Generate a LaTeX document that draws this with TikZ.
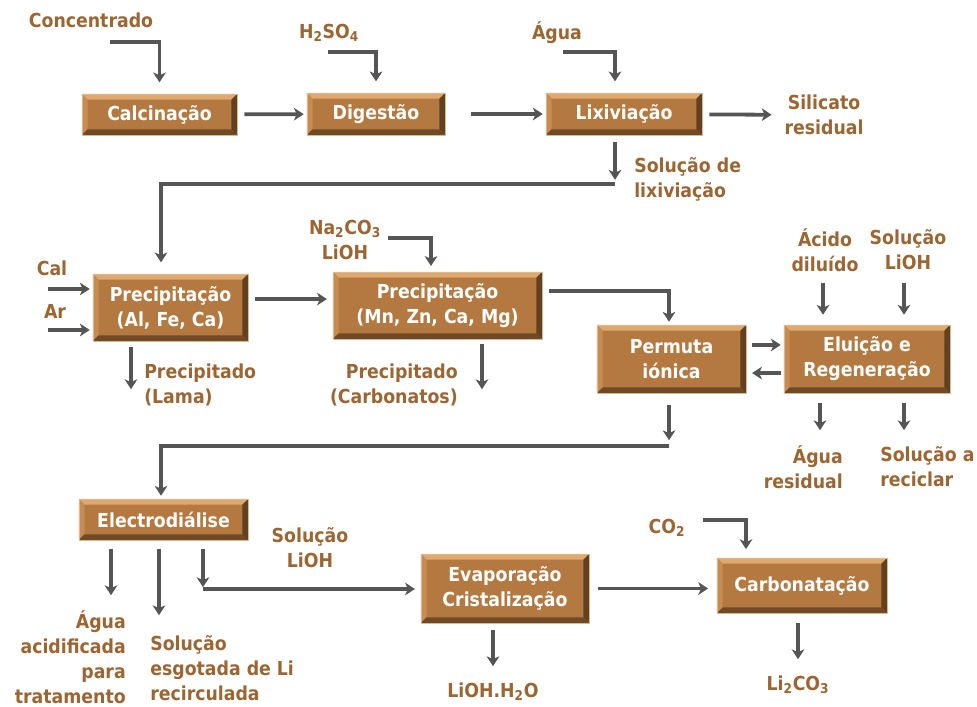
\documentclass[tikz,border=0pt]{standalone}
\usepackage{fontspec}
\setmainfont{DejaVu Sans Condensed}
\usepackage{xcolor}
\usepackage{tikz}
\usetikzlibrary{arrows.meta, positioning}

\definecolor{boxmid}{RGB}{180,121,64}
\definecolor{boxtop}{RGB}{224,168,108}
\definecolor{boxleft}{RGB}{198,140,82}
\definecolor{boxbot}{RGB}{112,74,38}
\definecolor{boxright}{RGB}{98,64,32}
\definecolor{boxedge}{RGB}{214,186,150}
\definecolor{txtbrown}{RGB}{156,101,50}
\definecolor{arrowgray}{RGB}{85,85,85}

\newcommand{\diagfont}{\fontsize{13.7pt}{17.8pt}\selectfont\bfseries}
\newcommand{\bevelw}{4pt}

\begin{document}
\begin{tikzpicture}[x=0.025cm, y=-0.025cm,
			proc/.style={rectangle, draw=boxedge, line width=0.6pt, fill=boxmid,
					text=white, font=\diagfont, align=center, inner sep=0pt,
					path picture={
						\path (path picture bounding box.south west) coordinate (sw)
						(path picture bounding box.north east) coordinate (ne);
						\fill[boxtop] (sw |- ne) -- (ne) -- ([shift={(-\bevelw,-\bevelw)}]ne)
						-- ([shift={(\bevelw,-\bevelw)}]sw |- ne) -- cycle;
						\fill[boxleft] (sw) -- (sw |- ne) -- ([shift={(\bevelw,-\bevelw)}]sw |- ne)
						-- ([shift={(\bevelw,\bevelw)}]sw) -- cycle;
						\fill[boxbot] (sw) -- (ne |- sw) -- ([shift={(-\bevelw,\bevelw)}]ne |- sw)
						-- ([shift={(\bevelw,\bevelw)}]sw) -- cycle;
						\fill[boxright] (ne |- sw) -- (ne) -- ([shift={(-\bevelw,-\bevelw)}]ne)
						-- ([shift={(-\bevelw,\bevelw)}]ne |- sw) -- cycle;
					}},
			lbl/.style={text=txtbrown, font=\diagfont, inner sep=0pt},
			line/.style={draw=arrowgray, line width=2.7pt,
					-{Stealth[length=7pt, width=9pt, inset=2pt]}, shorten >=2pt, shorten <=5pt}]

		\useasboundingbox (0,0) rectangle (977,707);

		% Process boxes
		\node[proc, minimum width=3.875cm, minimum height=1.025cm] (calc) at (159.5,114.5) {Calcinação};
		\node[proc, minimum width=3.45cm, minimum height=1.05cm] (digest) at (376,114) {Digestão};
		\node[proc, minimum width=3.9cm, minimum height=1.05cm] (lixiv) at (624,114) {Lixiviação};
		\node[proc, minimum width=3.875cm, minimum height=1.675cm] (precipA) at (170.5,307.5) {Precipitação\\(Al, Fe, Ca)};
		\node[proc, minimum width=5.225cm, minimum height=1.675cm] (precipB) at (437.5,305.5) {Precipitação\\(Mn, Zn, Ca, Mg)};
		\node[proc, minimum width=3.725cm, minimum height=1.7cm] (permuta) at (671.5,359) {Permuta\\iónica};
		\node[proc, minimum width=4.15cm, minimum height=1.7cm] (eluicao) at (867,359) {Eluição e\\Regeneração};
		\node[proc, minimum width=4.225cm, minimum height=1.025cm] (electro) at (163.5,519.5) {Electrodiálise};
		\node[proc, minimum width=4.2cm, minimum height=1.725cm] (evap) at (505,588.5) {Evaporação\\Cristalização};
		\node[proc, minimum width=4.25cm, minimum height=1.375cm] (carbon) at (802,585.5) {Carbonatação};

		% Stream labels
		\node[lbl] (concentrado) at (91,20) {Concentrado};
		\node[lbl] (hso) at (329,33) {H\textsubscript{2}SO\textsubscript{4}};
		\node[lbl] (agua) at (557,33) {Água};
		\node[lbl, align=center] (silicato) at (824,115) {Silicato\\residual};
		\node[lbl, align=left, anchor=west] (solLix) at (634,179) {Solução de\\lixiviação};
		\node[lbl] (cal) at (52,268) {Cal};
		\node[lbl] (ar) at (55,311) {Ar};
		\node[lbl, align=center] (nacarb) at (345,240) {Na\textsubscript{2}CO\textsubscript{3}\\LiOH};
		\node[lbl, align=left, anchor=west] (lama) at (144,385) {Precipitado\\(Lama)};
		\node[lbl, align=right, anchor=east] (carbonatos) at (458,385) {Precipitado\\(Carbonatos)};
		\node[lbl, align=center] (acido) at (825,250) {Ácido\\diluído};
		\node[lbl, align=center] (solLiOHa) at (908,250) {Solução\\LiOH};
		\node[lbl, align=right, anchor=east] (aguaRes) at (843,467) {Água\\residual};
		\node[lbl, align=left, anchor=west] (solRec) at (880,467) {Solução a\\reciclar};
		\node[lbl, align=right, anchor=east] (aguaAcid) at (126,657) {Água\\acidificada\\para\\tratamento};
		\node[lbl, align=left, anchor=west] (esgotada) at (150,668) {Solução\\esgotada de Li\\recirculada};
		\node[lbl, align=center] (solLiOHb) at (310,548) {Solução\\LiOH};
		\node[lbl] (co2) at (667,528) {CO\textsubscript{2}};
		\node[lbl] (liohh) at (493,692) {LiOH.H\textsubscript{2}O};
		\node[lbl] (licarb) at (798,685) {Li\textsubscript{2}CO\textsubscript{3}};

		% Free ends and bends of the streams
		\coordinate (concIn) at (110,42);
		\coordinate (hsoIn) at (328,52);
		\coordinate (aguaIn) at (563,52);
		\coordinate (aguaDn) at (615,52);
		\coordinate (lixOut) at (615,184);
		\coordinate (colA) at (161,0);
		\coordinate (calIn) at (48,289);
		\coordinate (arIn) at (48,330);
		\coordinate (naIn) at (388,238);
		\coordinate (naDn) at (431,238);
		\coordinate (lamaOut) at (131,392);
		\coordinate (carbOut) at (482,392);
		\coordinate (pbTurn) at (669,291);
		\coordinate (acidoIn) at (823,283);
		\coordinate (liohIn) at (904,283);
		\coordinate (resOut) at (820,433);
		\coordinate (recOut) at (904,433);
		\coordinate (permOut) at (669,443);
		\coordinate (permTurn) at (669,446);
		\coordinate (acidOut) at (111,598);
		\coordinate (esgOut) at (159,618);
		\coordinate (liohOut) at (203,590);
		\coordinate (liohTurn) at (203,589);
		\coordinate (evapOut) at (493,669);
		\coordinate (coIn) at (703,520);
		\coordinate (coDn) at (746,520);
		\coordinate (carbOut2) at (798,662);

		% Main line
		\draw[line, shorten <=0pt, shorten >=8pt] (concIn) -| (calc);
		\draw[line] (calc) -- (digest);
		\draw[line, shorten <=0pt, shorten >=8pt] (hsoIn) -| (digest);
		\draw[line, shorten <=18pt, shorten >=2pt] (digest) -- (lixiv);
		\draw[line, shorten <=0pt, shorten >=8pt] (aguaIn) -- (aguaDn) -- (aguaDn |- lixiv.north);
		\draw[line, shorten >=9pt] (lixiv) -- (silicato);
		\draw[line, shorten >=3pt] (lixiv.south -| lixOut) -- (lixOut);
		\draw[line, shorten <=0pt, shorten >=8pt] (lixOut) -| (precipA.north -| colA);

		% Purification
		\draw[line, shorten <=0pt] (calIn) -- (calIn -| precipA.west);
		\draw[line, shorten <=0pt] (arIn) -- (arIn -| precipA.west);
		\draw[line, shorten >=4pt] ([yshift=6pt]precipA.east) -- ([yshift=6pt]precipA.east -| precipB.west);
		\draw[line, shorten <=0pt, shorten >=4pt] (naIn) -- (naDn) -- (naDn |- precipB.north);
		\draw[line, shorten <=4pt] (precipA.south -| lamaOut) -- (lamaOut);
		\draw[line, shorten <=3pt] (precipB.south -| carbOut) -- (carbOut);
		\draw[line] (precipB.east |- pbTurn) -- (pbTurn) -- (pbTurn |- permuta.north);

		% Ion exchange
		\draw[line, shorten <=4pt] ([yshift=10pt]permuta.east) -- ([yshift=10pt]permuta.east -| eluicao.west);
		\draw[line, shorten <=2pt, shorten >=4pt] ([yshift=-10pt]eluicao.west) -- ([yshift=-10pt]eluicao.west -| permuta.east);
		\foreach \c in {acidoIn, liohIn}
			\draw[line, shorten <=0pt, shorten >=7pt] (\c) -- (\c |- eluicao.north);
		\foreach \c in {resOut, recOut}
			\draw[line, shorten <=7pt] (eluicao.south -| \c) -- (\c);
		\draw[line, shorten <=8pt] (permuta.south -| permOut) -- (permOut);
		\draw[line, shorten <=0pt] (permTurn) -| (electro.north -| colA);

		% Electrodialysis and products
		\foreach \c in {acidOut, esgOut, liohOut}
			\draw[line, shorten <=6pt] (electro.south -| \c) -- (\c);
		\draw[line, shorten <=0pt, shorten >=4pt] (liohTurn) -- (liohTurn -| evap.west);
		\draw[line, shorten <=6pt, shorten >=6pt] (evap) -- (evap -| carbon.west);
		\draw[line] (evap.south -| evapOut) -- (evapOut);
		\draw[line, shorten <=0pt, shorten >=6pt] (coIn) -- (coDn) -- (coDn |- carbon.north);
		\draw[line, shorten <=7pt] (carbon.south -| carbOut2) -- (carbOut2);

	\end{tikzpicture}
\end{document}
